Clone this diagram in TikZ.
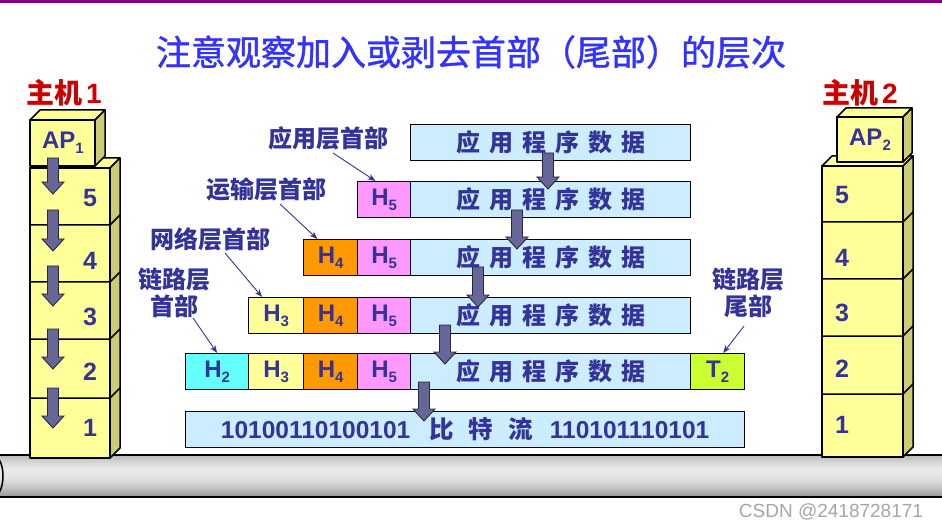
\documentclass[tikz,border=0pt]{standalone}
\usepackage{fontspec}
\setmainfont{Liberation Sans}
\newfontfamily\cjk{Noto Sans CJK SC}
\newfontfamily\cjkt{Noto Sans CJK SC}[FakeBold=1.2]
\usetikzlibrary{arrows.meta,calc}
\definecolor{tb}{HTML}{333399}
\definecolor{ttl}{HTML}{3333FF}
\definecolor{hred}{HTML}{CC0000}
\definecolor{dblue}{HTML}{CCECFF}
\definecolor{hpink}{HTML}{FF99FF}
\definecolor{horange}{HTML}{FF9900}
\definecolor{hyellow}{HTML}{FFFF99}
\definecolor{hcyan}{HTML}{66FFFF}
\definecolor{tgreen}{HTML}{CCFF33}
\definecolor{boxy}{HTML}{FFFF99}
\definecolor{boxside}{HTML}{CCCC77}
\definecolor{arrfill}{HTML}{666699}
\definecolor{purp}{HTML}{800080}
\newcommand\hsubx[2]{#1\raisebox{-5pt}{\fontsize{15}{15}\selectfont #2}}
\newcommand\gapc{\hspace{9pt}}
\newcommand\appdata{{\cjk\fontsize{24}{24}\selectfont 应\gapc 用\gapc 程\gapc 序\gapc 数\gapc 据}}
\newcommand\mkcell[6]{\node[cell, fill=#5, minimum width={#3-#2}] (#1) at (#2,#4) {#6};}
\newcommand\mkcube[5]{%
 \filldraw[cubeline, fill=boxy] (#1,#2) -- ({#1+#5},{#2-#5}) -- ({#3+#5},{#2-#5}) -- (#3,#2) -- cycle;
 \filldraw[cubeline, fill=boxside] (#3,#2) -- ({#3+#5},{#2-#5}) -- ({#3+#5},{#4-#5}) -- (#3,#4) -- cycle;
 \filldraw[cubeline, fill=boxy] (#1,#2) rectangle (#3,#4);}
\newcommand\mkdiv[4]{\draw[cubeline] (#1,#3) -- (#2,#3) -- ({#2+#4},{#3-#4});}
\newcommand\mkarrow[3]{\filldraw[barrow] ({#1-5.5},#2) -- ({#1+5.5},#2) -- ({#1+5.5},{#3-12}) -- ({#1+11},{#3-12}) -- (#1,#3) -- ({#1-11},{#3-12}) -- ({#1-5.5},{#3-12}) -- cycle;}
\tikzset{
 cell/.style={draw=black, line width=1.3pt, minimum height=36pt, inner sep=0pt, anchor=north west, text=tb, font=\bfseries\fontsize{24}{24}\selectfont},
 cubeline/.style={draw=black, line width=1.5pt, line join=round},
 barrow/.style={fill=arrfill, draw=black!60!arrfill, line width=0.9pt},
 num/.style={text=tb, font=\bfseries\fontsize{25}{25}\selectfont, inner sep=0pt},
 aplab/.style={text=tb, font=\bfseries\fontsize{24}{24}\selectfont, inner sep=0pt},
 lab/.style={text=tb, font=\cjk\bfseries\fontsize{24}{27}\selectfont, inner sep=0pt, align=center},
 hostlab/.style={text=hred, font=\bfseries\fontsize{28}{28}\selectfont, inner sep=0pt},
 leader/.style={draw=tb, line width=0.9pt, -{Stealth[length=8pt,width=6pt]}},
}
\begin{document}
\begin{tikzpicture}[x=1pt,y=-1pt]
\useasboundingbox (0,0) rectangle (942,529);
\fill[white] (0,0) rectangle (942,529);
\fill[purp] (0,0) rectangle (942,3);
% title
\node[text=ttl, font=\cjkt\fontsize{35}{35}\selectfont, inner sep=0pt] (title) at (471,52) {注意观察加入或剥去首部（尾部）的层次};
% cable (manual vertical gradient)
\foreach \i in {0,...,41}{%
  \pgfmathsetmacro\tq{\i/41}%
  \pgfmathsetmacro\pv{100-(\tq<0.4 ? 72+19*sin(90*\tq/0.4) : 91-31*(1-cos(90*(\tq-0.4)/0.6)))}%
  \fill[black!\pv, draw=none] (-10,{455+\i}) rectangle (952,{456.2+\i});
}
\draw[line width=2.2pt] (-10,455) -- (952,455);
\draw[line width=2.2pt] (-10,497) -- (952,497);
\draw[line width=1.5pt] (-6,476) ellipse [x radius=9, y radius=20];
% host 1
\node[hostlab] (host1) at (64,93) {{\cjk 主机}\hspace{4pt}1};
\mkcube{30}{168}{110}{458}{10}
\mkdiv{30}{110}{225}{10}
\mkdiv{30}{110}{282}{10}
\mkdiv{30}{110}{339}{10}
\mkdiv{30}{110}{398}{10}
\mkcube{30}{120}{95}{166}{10}
\node[aplab] (ap1) at (63,143) {\hsubx{AP}{1}};
\node[num] (a5) at (90,198) {5};
\node[num] (a4) at (90,261) {4};
\node[num] (a3) at (90,317) {3};
\node[num] (a2) at (90,372) {2};
\node[num] (a1) at (90,428) {1};
\mkarrow{53}{158}{194}
\mkarrow{53}{210}{251}
\mkarrow{53}{266}{306}
\mkarrow{53}{329}{369}
\mkarrow{53}{388}{428}
% host 2
\node[hostlab] (host2) at (860,93) {{\cjk 主机}\hspace{4pt}2};
\mkcube{822}{166}{903}{457}{10}
\mkdiv{822}{903}{222}{10}
\mkdiv{822}{903}{279}{10}
\mkdiv{822}{903}{336}{10}
\mkdiv{822}{903}{394}{10}
\mkcube{837}{117}{903}{162}{9}
\node[aplab] (ap2) at (870,140) {\hsubx{AP}{2}};
\node[num] (b5) at (842,195) {5};
\node[num] (b4) at (842,258) {4};
\node[num] (b3) at (842,313) {3};
\node[num] (b2) at (842,369) {2};
\node[num] (b1) at (842,425) {1};
% rows
\mkcell{r1d}{410}{690}{124}{dblue}{\appdata}
\mkcell{r2h5}{357}{410}{181}{hpink}{\hsubx{H}{5}}
\mkcell{r2d}{410}{690}{181}{dblue}{\appdata}
\mkcell{r3h4}{303}{357}{239}{horange}{\hsubx{H}{4}}
\mkcell{r3h5}{357}{410}{239}{hpink}{\hsubx{H}{5}}
\mkcell{r3d}{410}{690}{239}{dblue}{\appdata}
\mkcell{r4h3}{248}{303}{297}{hyellow}{\hsubx{H}{3}}
\mkcell{r4h4}{303}{357}{297}{horange}{\hsubx{H}{4}}
\mkcell{r4h5}{357}{410}{297}{hpink}{\hsubx{H}{5}}
\mkcell{r4d}{410}{690}{297}{dblue}{\appdata}
\mkcell{r5h2}{185}{248}{353}{hcyan}{\hsubx{H}{2}}
\mkcell{r5h3}{248}{303}{353}{hyellow}{\hsubx{H}{3}}
\mkcell{r5h4}{303}{357}{353}{horange}{\hsubx{H}{4}}
\mkcell{r5h5}{357}{410}{353}{hpink}{\hsubx{H}{5}}
\mkcell{r5d}{410}{690}{353}{dblue}{\appdata}
\mkcell{r5t2}{690}{744}{353}{tgreen}{\hsubx{T}{2}}
\mkcell{r6}{185}{744}{411}{dblue}{\fontsize{24.5}{24.5}\selectfont 10100110100101\hspace{19pt}{\cjk 比}\hspace{15pt}{\cjk 特}\hspace{15pt}{\cjk 流}\hspace{17pt}110101110101}
% arrows between rows
\mkarrow{548}{153}{189}
\mkarrow{517}{210}{249}
\mkarrow{478}{267}{307}
\mkarrow{445}{325}{364}
\mkarrow{424}{382}{421}
% labels
\node[lab] (l1) at (328,138) {应用层首部};
\node[lab] (l2) at (266,189) {运输层首部};
\node[lab] (l3) at (210,239) {网络层首部};
\node[lab] (l4) at (174,293) {链路层\\首部};
\node[lab] (l5) at (748,293) {链路层\\尾部};
\coordinate (s1) at (333,153);
\coordinate (s2) at (280,204);
\coordinate (s3) at (225,253);
\coordinate (s4) at (193,318);
\coordinate (s5) at (744,326);
\draw[leader] (s1) -- ($(r2h5.north west)!0.34!(r2h5.north east)$);
\draw[leader] (s2) -- ($(r3h4.north west)!0.26!(r3h4.north east)$);
\draw[leader] (s3) -- ($(r4h3.north west)!0.25!(r4h3.north east)$);
\draw[leader] (s4) -- ($(r5h2.north west)!0.5!(r5h2.north east)$);
\draw[leader] (s5) -- ($(r5t2.north west)!0.6!(r5t2.north east)$);
% watermark
\node[text=black!35, font=\fontsize{19}{19}\selectfont, inner sep=0pt] (wm) at (831,512) {CSDN @2418728171};
\end{tikzpicture}
\end{document}
